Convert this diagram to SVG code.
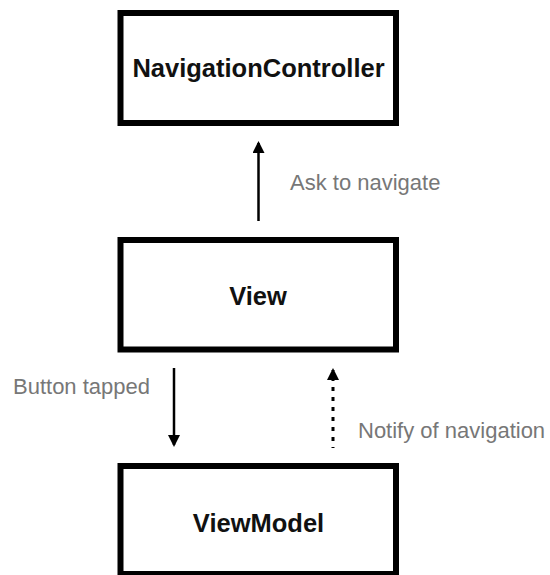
<svg xmlns="http://www.w3.org/2000/svg" width="550" height="575" viewBox="0 0 550 575">
  <style>
    .box { fill: #ffffff; stroke: #000000; stroke-width: 6; }
    .title { font-family: "Liberation Sans", Arial, Helvetica, sans-serif; font-weight: bold; font-size: 25.5px; fill: #111111; text-anchor: middle; }
    .label { font-family: "Liberation Sans", Arial, Helvetica, sans-serif; font-size: 22px; fill: #777777; }
    .edge { fill: none; stroke: #000000; stroke-width: 2.5; }
    .dotted { stroke-width: 3; stroke-dasharray: 4 6; }
  </style>
  <defs>
    <marker id="arrow" viewBox="0 0 12 12" refX="10" refY="6" markerWidth="12" markerHeight="12" markerUnits="userSpaceOnUse" orient="auto">
      <path d="M0,0 L12,6 L0,12 Z" fill="#000000"/>
    </marker>
  </defs>
  <rect width="550" height="575" fill="#ffffff"/>

  <g id="navigation-controller">
    <rect class="box" x="120.5" y="13" width="275.5" height="110"/>
    <text class="title" x="258.5" y="77">NavigationController</text>
  </g>

  <g id="view">
    <rect class="box" x="120.5" y="240" width="275.5" height="109.5"/>
    <text class="title" x="258" y="305">View</text>
  </g>

  <g id="view-model">
    <rect class="box" x="120.5" y="466" width="275.5" height="108"/>
    <text class="title" x="258.5" y="532">ViewModel</text>
  </g>

  <g id="connectors">
    <line class="edge" x1="258.5" y1="221" x2="258.5" y2="143" marker-end="url(#arrow)"/>
    <line class="edge" x1="174" y1="368" x2="174" y2="445" marker-end="url(#arrow)"/>
    <line class="edge dotted" x1="333" y1="448" x2="333" y2="370" stroke-dashoffset="3" marker-end="url(#arrow)"/>
  </g>

  <g id="labels">
    <text class="label" x="290" y="190">Ask to navigate</text>
    <text class="label" x="13" y="394">Button tapped</text>
    <text class="label" x="358" y="438">Notify of navigation</text>
  </g>
</svg>
